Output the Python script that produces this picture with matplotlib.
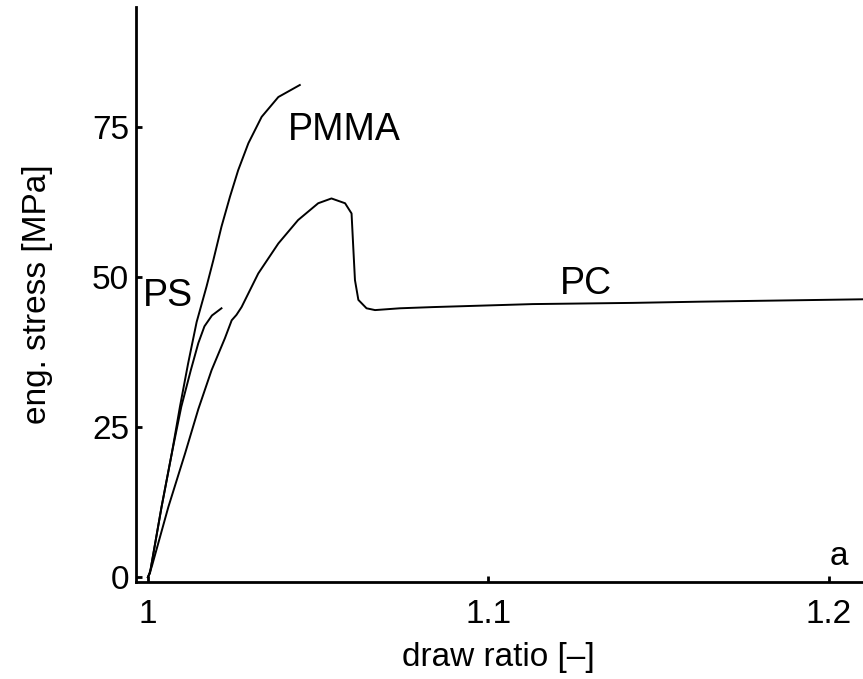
import numpy as np
import matplotlib
matplotlib.use("Agg")
import matplotlib.pyplot as plt

plt.rcParams['font.family'] = ['Liberation Sans', 'DejaVu Sans']

# draw ratio / eng. stress [MPa]
pmma_x = [1.0, 1.0006, 1.0040, 1.0070, 1.0094, 1.0118, 1.0143, 1.0172, 1.0192,
          1.0216, 1.0241, 1.0265, 1.0295, 1.0334, 1.0383, 1.0446]
pmma_y = [0.0, 0.7, 11.7, 20.6, 28.4, 35.6, 42.5, 48.4, 52.8,
          58.4, 63.4, 67.8, 72.3, 76.7, 80.0, 82.0]

ps_x = [1.0, 1.0006, 1.0040, 1.0070, 1.0098, 1.0126, 1.0148, 1.0166, 1.0188, 1.0216]
ps_y = [0.0, 0.7, 11.7, 20.6, 28.4, 34.5, 39.0, 41.8, 43.6, 44.8]

pc_x = [1.0, 1.0011, 1.0060, 1.0109, 1.0148, 1.0187, 1.0226, 1.0246, 1.0260, 1.0275,
        1.0324, 1.0383, 1.0441, 1.0500, 1.0539, 1.0579, 1.0598, 1.0603, 1.0608,
        1.0618, 1.0642, 1.0667, 1.0740, 1.0837, 1.1130, 1.1424, 1.1620, 1.2100]
pc_y = [0.0, 1.7, 11.7, 20.6, 28.0, 34.5, 39.8, 42.8, 43.7, 45.0,
        50.6, 55.6, 59.5, 62.3, 63.1, 62.3, 60.6, 55.0, 49.5,
        46.2, 44.8, 44.5, 44.8, 45.0, 45.5, 45.7, 45.9, 46.3]

labels = ['PMMA', 'PS', 'PC', 'a']
label_x = [1.0411, 0.9985, 1.1210, 1.2003]
label_y = [72.8, 45.2, 47.2, 2.0]

fig = plt.figure(figsize=(8.63, 6.79), dpi=100)
ax = fig.add_axes([0.1576, 0.1429, 1.0 - 0.1576, 0.9897 - 0.1429])

for xs, ys in [(pmma_x, pmma_y), (ps_x, ps_y), (pc_x, pc_y)]:
    ax.plot(xs, ys, color='black', linewidth=1.4, solid_joinstyle='round')

for t, lx, ly in zip(labels, label_x, label_y):
    size = 24 if t == 'a' else 27
    ax.text(lx, ly, t, fontsize=size, ha='left', va='baseline')

ax.set_xlim(0.9965, 1.21)
ax.set_ylim(-0.8, 95)
ax.set_xticks([1, 1.1, 1.2])
ax.set_xticklabels(['1', '1.1', '1.2'])
ax.set_yticks([0, 25, 50, 75])

for side in ['top', 'right']:
    ax.spines[side].set_visible(False)
for side in ['left', 'bottom']:
    ax.spines[side].set_linewidth(2.0)

ax.tick_params(direction='in', length=4, width=2, labelsize=24)
ax.tick_params(axis='y', pad=5)
ax.tick_params(axis='x', pad=12)

ax.set_xlabel('draw ratio [–]', fontsize=24)
ax.set_ylabel('eng. stress [MPa]', fontsize=24)
ax.xaxis.set_label_coords(0.498, -0.104)
ax.yaxis.set_label_coords(-0.114, 0.50)

fig.savefig('out.png', dpi=100)
